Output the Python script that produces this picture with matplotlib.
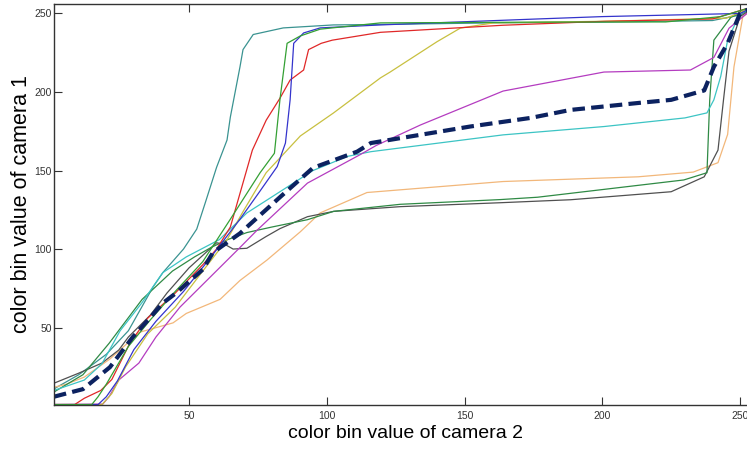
"""cumulative colour bin mapping between two cameras (brightness transfer curves)"""

import matplotlib
matplotlib.use('Agg')
import matplotlib.pyplot as plt

plt.rcParams['font.family'] = ['Liberation Sans', 'DejaVu Sans']

# per-image transfer curves (x: camera 2 bin, y: camera 1 bin)
teal_x = [1, 10, 20, 28, 37, 40.5, 48, 52.8, 56, 60, 63.8, 65, 68.5, 69.6, 73.3, 84.2, 102.4, 119.5, 160, 200, 240, 250, 256]
teal_y = [11, 20, 33, 48, 76, 85, 100, 112.7, 130, 152, 169.4, 184, 216, 227, 236.6, 240.8, 242.7, 243, 244, 244.5, 245.5, 249, 255]

green1_x = [1, 14.7, 17, 20, 28, 36, 45, 55, 65, 75.8, 81, 83, 85.6, 90.4, 97.6, 119.5, 180, 223, 243, 256]
green1_y = [1, 1, 6, 14, 38, 55, 73, 92, 119, 148.6, 161, 195, 231, 235.7, 240, 244, 244.5, 244.6, 248, 255]

blue_x = [1, 17, 20, 24, 30, 38, 48, 58, 68.5, 75, 82, 85, 86.7, 88, 91.6, 97.6, 119.5, 176.5, 200, 250, 256]
blue_y = [1, 1, 6, 16, 36, 54, 73, 95, 119, 135, 152.5, 167.5, 195, 231, 237.6, 240.8, 242.7, 246.5, 248, 250, 255]

red_x = [1, 8.5, 12, 18, 22, 28.5, 35, 45, 55, 60, 65, 73, 78, 83, 86.7, 91.6, 93.4, 98, 102, 119.5, 164, 200.6, 240, 256]
red_y = [1, 1, 5, 10, 17, 40, 56, 72, 90, 100, 114, 163, 182, 196, 207.6, 214, 227, 231, 233, 238, 242.5, 245, 246.5, 255]

yellow_x = [1, 18.4, 22, 27, 35, 45, 55, 63.8, 70, 78, 90.4, 102.4, 119.5, 123, 140, 148.5, 160.5, 200, 245, 256]
yellow_y = [1, 1, 8, 25, 46, 63, 86, 106, 125, 148.6, 172, 186.6, 209, 212.7, 232, 240.7, 244, 245, 247, 255]

magenta_x = [1, 18.7, 21, 24.5, 31.8, 38, 46.7, 57.6, 68.5, 74.7, 93, 112, 118, 134, 164, 200.6, 232, 240.5, 246, 256]
magenta_y = [1, 1.3, 6, 16.6, 27.4, 44, 63, 82, 101, 112, 142, 160, 166, 179, 200.6, 212.7, 214, 222, 240.6, 255]

cyan_x = [1, 12, 18.4, 25, 33, 40.5, 49, 61, 71, 83, 95, 107.5, 116, 164, 200.6, 230, 238, 240.5, 243, 245.5, 250, 256]
cyan_y = [10, 16.6, 27, 48, 66, 85, 95, 106, 123, 136.5, 150, 159, 162, 172.7, 178, 183.5, 186.7, 195, 210, 233, 250, 255]

orange_x = [1, 5.6, 12, 21.3, 32, 44.2, 49, 61.3, 68.5, 78.3, 90.4, 97.6, 114.6, 164, 213, 233, 242, 245.5, 247.8, 251, 256]
orange_y = [12, 14, 18.5, 30, 47, 53, 59, 68, 80, 93, 111, 123, 136, 143, 146, 149, 155, 173, 216, 248, 255]

green2_x = [1, 11.5, 21, 33, 44, 52, 58, 64, 71, 80, 93, 102.5, 126.7, 163, 176.5, 229.6, 238, 239, 240.5, 246.7, 256]
green2_y = [9, 20, 40, 68, 86, 95, 101, 106, 110.5, 114, 118.7, 124, 128.5, 131.5, 133, 144, 148.6, 195, 233, 247.6, 255]

gray_x = [1, 10, 18.4, 24.5, 28, 36, 42, 50, 55, 60, 63, 66, 71, 78, 83, 93, 102.5, 126.7, 163, 188.5, 225, 237, 242, 244, 246, 250, 256]
gray_y = [14.6, 21, 27.4, 35.7, 44, 58, 72, 88, 96, 104, 103, 100, 100.5, 108, 113, 120.6, 124, 127, 129.5, 131.4, 136.5, 146, 163, 195, 226, 248, 255]

# mean curve
mean_x = [1, 11.5, 21.3, 29.6, 34.7, 40.5, 45.6, 55, 58.7, 68.5, 71, 83, 95, 111, 116, 152, 174, 188.5, 213, 225, 237, 240.5, 245.5, 250, 256]
mean_y = [6, 10.8, 24.8, 44, 54, 65.6, 72.4, 87, 97.8, 110, 114, 133, 151.7, 162, 167.5, 178, 183.5, 188.6, 193, 195, 201, 216, 231, 250, 255]

curves = [
    (teal_x, teal_y, '#3a9391'),
    (orange_x, orange_y, '#f2b77a'),
    (gray_x, gray_y, '#505050'),
    (green2_x, green2_y, '#2f8a45'),
    (cyan_x, cyan_y, '#3cc4c4'),
    (magenta_x, magenta_y, '#b43cc0'),
    (yellow_x, yellow_y, '#c8c040'),
    (red_x, red_y, '#e02828'),
    (blue_x, blue_y, '#3434cc'),
    (green1_x, green1_y, '#34a034'),
]

fig = plt.figure(figsize=(7.47, 4.49), dpi=100)
# the right edge of the box runs past the image, like the cropped original
ax = fig.add_axes([0.0723, 0.099, 0.9405, 0.892])

for xs, ys, col in curves:
    ax.plot(xs, ys, color=col, lw=0.9)
ax.plot(mean_x, mean_y, color='#0c2260', lw=3, dashes=(3, 1.5))

ax.set_xlim(1, 256)
ax.set_ylim(1, 256)
ax.set_xticks([50, 100, 150, 200, 250])
ax.set_yticks([50, 100, 150, 200, 250])
ax.tick_params(direction='in', length=6, width=0.8, top=True, right=True,
               labelsize=7.5, colors='#333333')
ax.tick_params(axis='x', pad=5)
ax.tick_params(axis='y', pad=1.5)
for s in ax.spines.values():
    s.set_color('#333333')
    s.set_linewidth(1.0)

ax.set_xlabel('color bin value of camera 2', fontsize=14)
ax.set_ylabel('color bin value of camera 1', fontsize=15.5)
ax.xaxis.set_label_coords(0.5, -0.052)
ax.yaxis.set_label_coords(-0.031, 0.5)

fig.savefig('out.png', dpi=100)
plt.close()
